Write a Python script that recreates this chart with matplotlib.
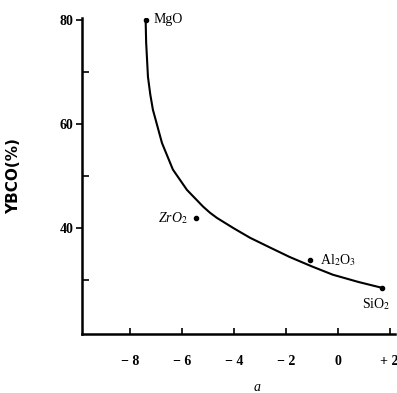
import matplotlib
matplotlib.use("Agg")
import matplotlib.pyplot as plt

plt.rcParams["mathtext.fontset"] = "stix"

# curve
curve_a = [-7.4, -7.38, -7.31, -7.22, -7.12, -6.77, -6.35, -5.81, -5.19, -4.92, -4.65, -4.0, -3.38, -2.6, -1.85, -1.0, -0.19, 0.8, 1.69]
curve_ybco = [80.0, 75.6, 69.0, 65.6, 62.7, 56.3, 51.2, 47.3, 44.1, 42.9, 41.9, 39.9, 38.1, 36.2, 34.4, 32.6, 31.0, 29.6, 28.5]

# substrates
subs = ["MgO", "ZrO$_2$", "Al$_2$O$_3$", "SiO$_2$"]
sub_a = [-7.4, -5.46, -1.08, 1.69]
sub_ybco = [80.0, 41.9, 33.8, 28.5]

x_ticks = [-8, -6, -4, -2, 0, 2]
x_labels = ["− 8", "− 6", "− 4", "− 2", "0", "+ 2"]
y_ticks = [40, 60, 80]

fig = plt.figure(figsize=(3.97, 3.93), dpi=100)
ax = fig.add_axes([0.2066, 0.150, 0.788, 0.804])

ax.plot(curve_a, curve_ybco, color="black", lw=1.5)
ax.plot(sub_a, sub_ybco, "o", color="black", ms=3)

serif = "Liberation Serif"
ax.text(sub_a[0] + 0.3, sub_ybco[0], subs[0], family=serif, fontsize=10, va="center", ha="left")
ax.text(sub_a[1] - 0.3, sub_ybco[1], subs[1], family=serif, fontsize=10, va="center", ha="right", style="italic")
ax.text(sub_a[2] + 0.4, sub_ybco[2], subs[2], family=serif, fontsize=10, va="center", ha="left")
ax.text(sub_a[3] - 0.75, sub_ybco[3] - 3.2, subs[3], family=serif, fontsize=10, va="center", ha="left")

ax.set_xlim(-9.85, 2.2)
ax.set_ylim(19.6, 80.3)

for s in ["top", "right"]:
    ax.spines[s].set_visible(False)
for s in ["left", "bottom"]:
    ax.spines[s].set_linewidth(1.8)

ax.set_xticks(x_ticks)
ax.set_xticklabels(x_labels, family=serif, fontsize=10, fontweight="bold")
ax.tick_params(axis="x", direction="in", length=4, width=1.2, pad=15)

ax.set_yticks(y_ticks)
ax.set_yticklabels([str(v) for v in y_ticks], family=serif, fontsize=10, fontweight="bold")
ax.set_yticks([30, 50, 70, 80], minor=True)
ax.tick_params(axis="y", which="major", direction="out", length=4, width=1.2, pad=2)
ax.tick_params(axis="y", which="minor", direction="in", length=5, width=1.2)

ax.set_ylabel("YBCO(%)", fontsize=11, fontweight="bold")
ax.yaxis.set_label_coords(-0.195, 0.50)
ax.set_xlabel("a", family=serif, fontsize=10, style="italic")
ax.xaxis.set_label_coords(0.56, -0.15)

fig.savefig("out.png", dpi=100)
